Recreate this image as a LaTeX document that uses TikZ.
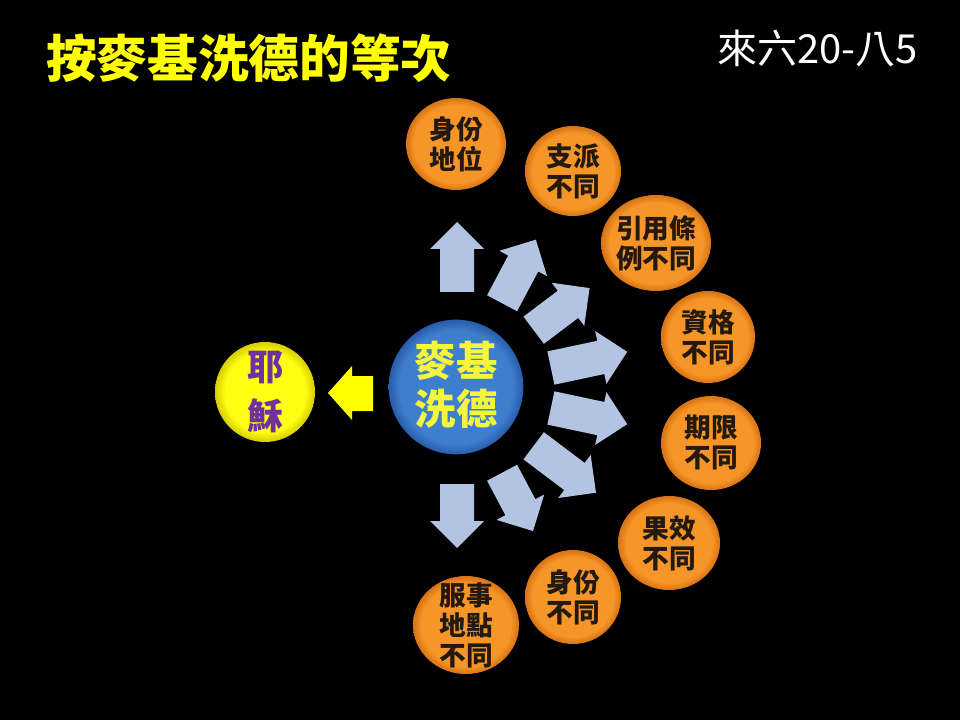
\documentclass[tikz,border=0pt]{standalone}
\usepackage{fontspec}
\usepackage{graphicx}
\newfontfamily\cjk{Noto Sans CJK TC}
\usetikzlibrary{shapes.geometric}
\definecolor{ttlyellow}{RGB}{255,255,0}
\definecolor{arrowblue}{RGB}{178,196,226}
\definecolor{orgflat}{RGB}{247,150,40}
\definecolor{orgedge}{RGB}{215,115,20}
\definecolor{blueflat}{RGB}{62,126,206}
\definecolor{blueedge}{RGB}{40,92,170}
\definecolor{yflat}{RGB}{255,255,20}
\definecolor{yedge}{RGB}{215,205,0}
\definecolor{purp}{RGB}{112,48,160}
\definecolor{ctext}{RGB}{245,245,60}
\definecolor{otxt}{RGB}{35,25,15}
\pgfdeclareradialshading{obevel}{\pgfpoint{0bp}{0bp}}{color(0bp)=(orgflat); color(21bp)=(orgflat); color(25bp)=(orgedge); color(50bp)=(orgedge)}
\pgfdeclareradialshading{bbevel}{\pgfpoint{0bp}{0bp}}{color(0bp)=(blueflat); color(21bp)=(blueflat); color(25bp)=(blueedge); color(50bp)=(blueedge)}
\pgfdeclareradialshading{ybevel}{\pgfpoint{0bp}{0bp}}{color(0bp)=(yflat); color(20bp)=(yflat); color(25bp)=(yedge); color(50bp)=(yedge)}
\begin{document}
\begin{tikzpicture}[x=0.75pt,y=-0.75pt,
  oball/.style 2 args={ellipse, inner sep=0pt, shading=obevel,
     minimum width=#1*1.5pt, minimum height=#2*1.5pt},
  otext/.style={align=center, text=otxt, font=\cjk\bfseries\fontsize{20}{22.5}\selectfont, inner sep=0pt},
  bluearrow/.style={fill=arrowblue}
]
\fill[black] (0,0) rectangle (960,720);
\useasboundingbox (0,0) rectangle (960,720);

% title
\node[anchor=west, inner sep=0pt, text=ttlyellow, font=\cjk\bfseries\fontsize{38}{40}\selectfont] (title) at (46,58) {按麥基洗德的等次};
\node[anchor=east, inner sep=0pt, text=white, font=\cjk\fontsize{30}{32}\selectfont] (ref) at (918,48) {來六20-八5};

% blue arrows
\foreach \a/\tip in {90/166, 62/168, 37/166, 12/174, -12/174, -37/174, -62/162, -90/160}{
  \begin{scope}[shift={(457,388)}, rotate=\a]
    \fill[bluearrow] (96,-17) -- (\tip-27,-17) -- (\tip-27,-27) -- (\tip,0) -- (\tip-27,27) -- (\tip-27,17) -- (96,17) -- cycle;
  \end{scope}
}

% center circle
\node[circle, inner sep=0pt, minimum size=101pt, shading=bbevel] (mk) at (456,387) {};
\node[align=center, inner sep=0pt, text=ctext, font=\cjk\bfseries\fontsize{31}{36}\selectfont] (mktext) at (456,385) {麥基\\洗德};

% yellow arrow
\fill[ttlyellow] (373,376) -- (352,376) -- (352,366) -- (328,393) -- (352,420) -- (352,411) -- (373,411) -- cycle;

% Jesus circle
\node[circle, inner sep=0pt, minimum size=75pt, shading=ybevel] (js) at (265,392) {};
\node[align=center, inner sep=0pt, text=purp, font=\cjk\bfseries\fontsize{27}{37}\selectfont] (jstext) at (265,392) {耶\\穌};

% orange circles
\node[oball={50}{46}] (o1) at (456,144) {};
\node[otext] at (o1) {身份\\地位};
\node[oball={48}{45}] (o2) at (573,171) {};
\node[otext] at (o2) {支派\\不同};
\node[oball={55}{48}] (o3) at (656,243) {};
\node[otext] at (o3) {引用條\\例不同};
\node[oball={47}{46}] (o4) at (708,337) {};
\node[otext] at (o4) {資格\\不同};
\node[oball={50}{47}] (o5) at (711,443) {};
\node[otext] at (o5) {期限\\不同};
\node[oball={51}{47}] (o6) at (669,543) {};
\node[otext] at (o6) {果效\\不同};
\node[oball={48}{47}] (o7) at (573,597) {};
\node[otext] at (o7) {身份\\不同};
\node[oball={53}{49}] (o8) at (466,625) {};
\node[otext] at (o8) {服事\\地點\\不同};
\end{tikzpicture}
\end{document}
